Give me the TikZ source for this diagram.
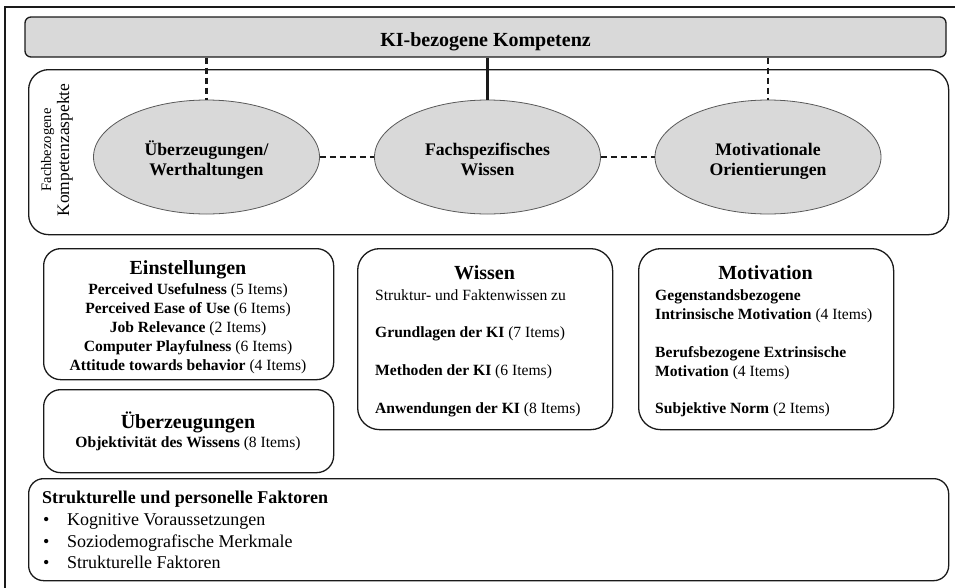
\documentclass[tikz,border=0pt]{standalone}
\usepackage{fontspec}
\setmainfont{Liberation Serif}
\usetikzlibrary{shapes.geometric}
\newcommand\setfs[2]{\fontsize{#1}{#2}\selectfont}
\definecolor{shade}{HTML}{D9D9D9}
\definecolor{ink}{HTML}{1A1A1A}
\begin{document}
\begin{tikzpicture}[x=1pt,y=-1pt,
  outerframe/.style={draw=ink,line width=1.5pt},
  titlebar/.style={draw=ink,fill=shade,line width=1.3pt,rounded corners=6pt,minimum width=921pt,minimum height=40pt,inner sep=0pt},
  groupbox/.style={draw=ink,line width=1.3pt,rounded corners=20pt,inner sep=0pt},
  smallbox/.style={draw=ink,line width=1.3pt,rounded corners=17pt,inner sep=0pt},
  widebox/.style={draw=ink,line width=1.3pt,rounded corners=22pt,inner sep=0pt},
  aspect/.style={ellipse,draw=black!65,fill=shade,line width=0.8pt,minimum width=226pt,minimum height=114pt,inner sep=0pt},
  aspecttext/.style={align=center,anchor=base,inner sep=0pt,font=\bfseries\setfs{17.7}{20}},
  head/.style={anchor=base,inner sep=0pt,font=\bfseries\setfs{20}{24}},
  items/.style={anchor=base,font=\setfs{15.6}{19},inner sep=0pt},
  dlink/.style={draw=ink,line width=2.6pt,dash pattern=on 6pt off 4pt},
  slink/.style={draw=ink,line width=2.4pt},
]
\useasboundingbox (0,0) rectangle (955,587);
\begin{scope}
  \clip (0,0) rectangle (955,587);
  \draw[outerframe] (5,7) rectangle (968,600);
\end{scope}

% overall competence bar
\node[titlebar] (title) at (485.5,37) {};
\node[head] (titletxt) at (485.5,46) {KI-bezogene Kompetenz};

% subject-related aspects
\node[groupbox,minimum width=920pt,minimum height=165pt,anchor=north west] (aspects) at (28,69) {};
\node[rotate=90,anchor=base,font=\setfs{14.5}{18},inner sep=0pt] (lblA) at (51,150) {Fachbezogene};
\node[rotate=90,anchor=base,font=\setfs{17.5}{20},inner sep=0pt] (lblB) at (69,150) {Kompetenzaspekte};

\node[aspect] (e1) at (206.5,157) {};
\node[aspect] (e2) at (487.5,157) {};
\node[aspect] (e3) at (768,157) {};
% multi-line texts: the base anchor sits on the last line
\node[aspecttext] (t1) at (206.5,175) {Überzeugungen/\\Werthaltungen};
\node[aspecttext] (t2) at (487.5,175) {Fachspezifisches\\Wissen};
\node[aspecttext] (t3) at (768,175) {Motivationale\\Orientierungen};

\draw[dlink] (title.south -| e1.north) -- (e1.north);
\draw[slink] (title.south -| e2.north) -- (e2.north);
\draw[dlink] (title.south -| e3.north) -- (e3.north);
\draw[dlink] (e1.east) -- (e2.west);
\draw[dlink] (e2.east) -- (e3.west);

% Einstellungen
\node[smallbox,minimum width=290pt,minimum height=131pt,anchor=north west] (einst) at (43,248) {};
\node[head] (einsth) at (188,274) {Einstellungen};
\node[items,align=center] (einsti) at (188,370) {%
  \textbf{Perceived Usefulness} (5 Items)\\
  \textbf{Perceived Ease of Use} (6 Items)\\
  \textbf{Job Relevance} (2 Items)\\
  \textbf{Computer Playfulness} (6 Items)\\
  \textbf{Attitude towards behavior} (4 Items)};

% Überzeugungen
\node[smallbox,minimum width=290pt,minimum height=83pt,anchor=north west] (ueber) at (43,389) {};
\node[head] (ueberh) at (188,428) {Überzeugungen};
\node[items] (ueberi) at (188,447) {\textbf{Objektivität des Wissens} (8 Items)};

% Wissen
\node[widebox,minimum width=255pt,minimum height=181pt,anchor=north west] (wiss) at (357,248) {};
\node[head] (wissh) at (484.5,279) {Wissen};
\node[items,anchor=base west] (wiss0) at (375,300) {Struktur- und Faktenwissen zu};
\node[items,anchor=base west] (wiss1) at (375,337) {\textbf{Grundlagen der KI} (7 Items)};
\node[items,anchor=base west] (wiss2) at (375,375) {\textbf{Methoden der KI} (6 Items)};
\node[items,anchor=base west] (wiss3) at (375,413) {\textbf{Anwendungen der KI} (8 Items)};

% Motivation
\node[widebox,minimum width=255pt,minimum height=181pt,anchor=north west] (moti) at (638,248) {};
\node[head] (motih) at (765.5,279) {Motivation};
\node[items,anchor=base west,align=left] (moti1) at (655,319) {\textbf{Gegenstandsbezogene}\\\textbf{Intrinsische Motivation} (4 Items)};
\node[items,anchor=base west,align=left] (moti2) at (655,376) {\textbf{Berufsbezogene Extrinsische}\\\textbf{Motivation} (4 Items)};
\node[items,anchor=base west] (moti3) at (655,413) {\textbf{Subjektive Norm} (2 Items)};

% structural and personal factors
\node[smallbox,rounded corners=15pt,minimum width=920pt,minimum height=102pt,anchor=north west] (fakt) at (28,478) {};
\node[anchor=base west,inner sep=0pt,font=\bfseries\setfs{18}{22}] (fakth) at (42,503) {Strukturelle und personelle Faktoren};
\node[anchor=base west,inner sep=0pt,font=\setfs{18}{22}] (b1) at (43,525) {•};
\node[anchor=base west,inner sep=0pt,font=\setfs{18}{22}] (b2) at (43,547) {•};
\node[anchor=base west,inner sep=0pt,font=\setfs{18}{22}] (b3) at (43,568) {•};
\node[anchor=base west,inner sep=0pt,font=\setfs{18}{22}] (f1) at (67,525) {Kognitive Voraussetzungen};
\node[anchor=base west,inner sep=0pt,font=\setfs{18}{22}] (f2) at (67,547) {Soziodemografische Merkmale};
\node[anchor=base west,inner sep=0pt,font=\setfs{18}{22}] (f3) at (67,568) {Strukturelle Faktoren};
\end{tikzpicture}
\end{document}
